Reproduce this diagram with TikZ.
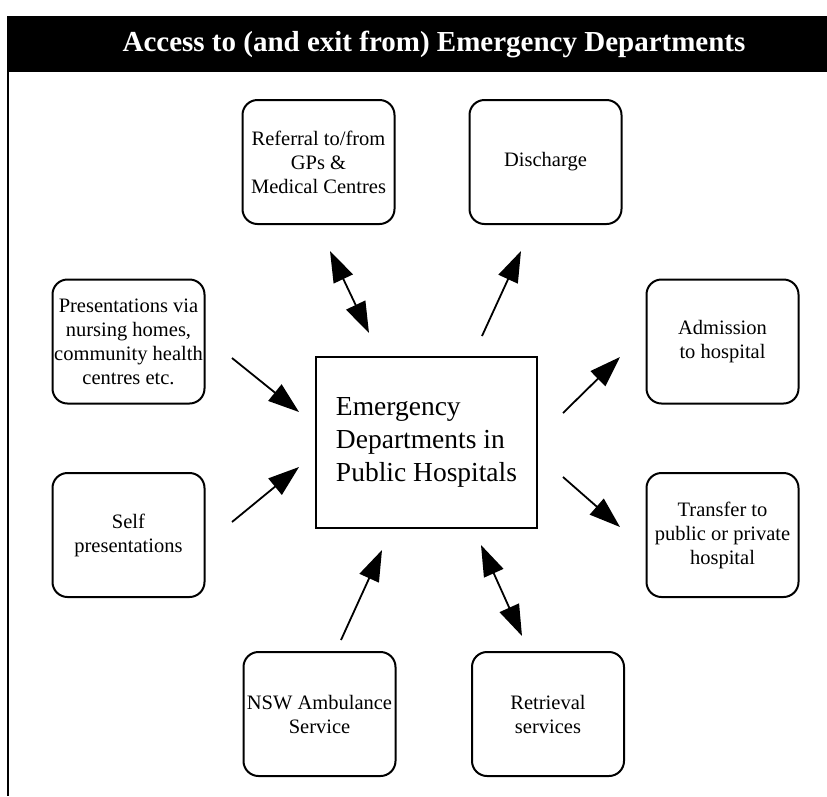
\documentclass[tikz,border=0pt]{standalone}
\usepackage{fontspec}
\setmainfont{Liberation Serif}
\usetikzlibrary{arrows.meta}

\begin{document}
\begin{tikzpicture}[x=1pt,y=-1pt,
  stepbox/.style={draw, line width=2pt, rounded corners=15pt,
    minimum width=152pt, minimum height=124pt, inner sep=0pt,
    align=center, font=\fontsize{20.5}{24}\selectfont},
  hub/.style={draw, line width=2.4pt, minimum width=221pt, minimum height=171pt,
    inner sep=0pt, align=left, font=\fontsize{27.5}{33}\selectfont},
  tip/.style={Triangle[length=31pt,width=21pt]},
  flow/.style={line width=1.8pt, -{Triangle[length=31pt,width=21pt]}},
  twoway/.style={line width=1.8pt, {Triangle[length=31pt,width=21pt]}-{Triangle[length=31pt,width=21pt]}},
]
\useasboundingbox (0,0) rectangle (827,796);

% heading band and left rule
\fill[black] (7,16) rectangle (827,72);
\node[text=white, font=\bfseries\fontsize{29}{34}\selectfont] (title) at (434,44)
  {Access to (and exit from) Emergency Departments};
\draw[line width=2pt] (8,72) -- (8,796);

% central department
\node[hub] (ed) at (426.5,442.5) {Emergency\\Departments in\\Public Hospitals};

% surrounding services
\node[stepbox] (ref)   at (318.5,162) {Referral to/from\\GPs \&\\Medical Centres};
\node[stepbox] (dis)   at (545.5,162) {Discharge};
\node[stepbox] (pres)  at (128.5,341.5) {Presentations via\\nursing homes,\\community health\\centres etc.};
\node[stepbox] (self)  at (128.5,535) {Self\\presentations};
\node[stepbox] (adm)   at (722.5,341.5) {Admission\\to hospital};
\node[stepbox] (trans) at (722.5,535) {Transfer to\\public or private\\hospital};
\node[stepbox] (nsw)   at (319.5,714) {NSW Ambulance\\Service};
\node[stepbox] (ret)   at (548,714) {Retrieval\\services};

% arrow end points
\coordinate (presA)  at (232,358);  \coordinate (presB)  at (299,412);
\coordinate (selfA)  at (232,522);  \coordinate (selfB)  at (299,467);
\coordinate (refA)   at (330,251);  \coordinate (refB)   at (369,333);
\coordinate (disA)   at (482,336);  \coordinate (disB)   at (521,251);
\coordinate (admA)   at (563,413);  \coordinate (admB)   at (620,357);
\coordinate (transA) at (563,477);  \coordinate (transB) at (620,527);
\coordinate (nswA)   at (341,640);  \coordinate (nswB)   at (382,550);
\coordinate (retA)   at (481,545);  \coordinate (retB)   at (522,636);

% connectors
\draw[flow]   (presA) -- (presB);
\draw[flow]   (selfA) -- (selfB);
\draw[twoway] (refA) -- (refB);
\draw[flow]   (disA) -- (disB);
\draw[flow]   (admA) -- (admB);
\draw[flow]   (transA) -- (transB);
\draw[flow]   (nswA) -- (nswB);
\draw[twoway] (retA) -- (retB);
\end{tikzpicture}
\end{document}
